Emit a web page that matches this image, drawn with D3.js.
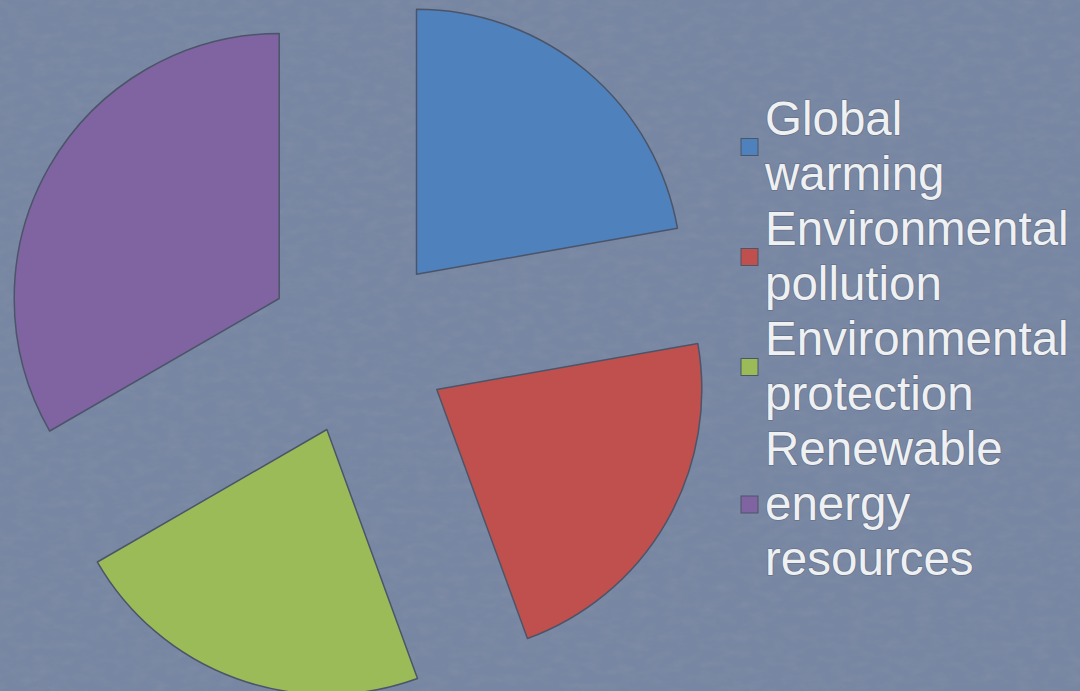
<!DOCTYPE html>
<html>
<head>
<meta charset="utf-8">
<script src="https://cdn.jsdelivr.net/npm/d3@7"></script>
<style>
  html, body { margin: 0; padding: 0; background: #7585a1; }
  svg { display: block; }
</style>
</head>
<body>
<svg id="chart" width="1080" height="691"></svg>
<script>
// data
const categories = ['Global warming', 'Environmental pollution', 'Environmental protection', 'Renewable energy resources']
const values = [2, 2, 2, 3]
const legendLines = [
  ['Global', 'warming'],
  ['Environmental', 'pollution'],
  ['Environmental', 'protection'],
  ['Renewable', 'energy', 'resources']
]
const colors = ['#4f81bd', '#c0504d', '#9bbb59', '#8064a2']

const W = 1080, H = 691
const CENTER = { x: 358, y: 344 }
const RADIUS = 265
const EXPLODE = 91

const svg = d3.select('#chart')

// textured slate background
const defs = svg.append('defs')
const f = defs.append('filter').attr('id', 'grain').attr('x', 0).attr('y', 0).attr('width', '100%').attr('height', '100%')
f.append('feTurbulence').attr('type', 'fractalNoise').attr('baseFrequency', '0.06 0.12').attr('numOctaves', 4).attr('seed', 7)
f.append('feColorMatrix').attr('type', 'matrix')
  .attr('values', '0 0 0 0 0.32  0 0 0 0 0.36  0 0 0 0 0.44  0 0 0 -1.8 1.1')

svg.append('rect').attr('width', W).attr('height', H).attr('fill', '#7786a2')
svg.append('rect').attr('width', W).attr('height', H).attr('filter', 'url(#grain)').attr('opacity', 0.2)

const pie = d3.pie().sort(null).value(d => d)
const arcs = pie(values)
const arc = d3.arc().innerRadius(0).outerRadius(RADIUS)

const g = svg.append('g').attr('transform', 'translate(' + CENTER.x + ',' + CENTER.y + ')')

g.selectAll('path.slice')
  .data(arcs)
  .enter()
  .append('path')
  .attr('class', 'slice')
  .attr('transform', function(d) {
    const mid = (d.startAngle + d.endAngle) / 2
    return 'translate(' + (Math.sin(mid) * EXPLODE) + ',' + (-Math.cos(mid) * EXPLODE) + ')'
  })
  .attr('d', arc)
  .attr('fill', (d, i) => colors[i])
  .attr('stroke', '#4b5569')
  .attr('stroke-width', 1.5)
  .attr('stroke-linejoin', 'round')

// legend
const LINE_H = 55
const firstBaseline = 135
const legend = svg.append('g')
let line = 0
legendLines.forEach((lines, i) => {
  const baselines = lines.map((_, k) => firstBaseline + (line + k) * LINE_H)
  const midY = d3.mean(baselines) - 15
  legend.append('rect')
    .attr('x', 741).attr('y', midY - 9)
    .attr('width', 17).attr('height', 17)
    .attr('fill', colors[i])
    .attr('stroke', '#4b5569')
    .attr('stroke-width', 1)
  lines.forEach((t, k) => {
    legend.append('text')
      .attr('x', 765)
      .attr('y', baselines[k])
      .attr('font-family', 'Liberation Sans, Arial, sans-serif')
      .attr('font-size', 47.5)
      .attr('fill', '#eef0f2')
      .style('paint-order', 'stroke')
      .attr('stroke', 'rgba(60,70,90,0.35)')
      .attr('stroke-width', 1.5)
      .text(t)
  })
  line += lines.length
})
</script>
</body>
</html>
